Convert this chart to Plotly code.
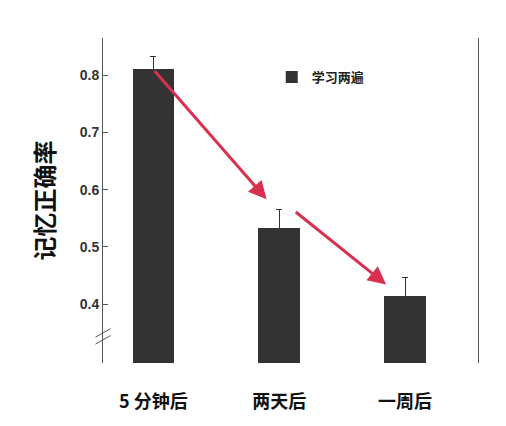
import plotly.graph_objects as go

categories = ["5 分钟后", "两天后", "一周后"]
values = [0.81, 0.533, 0.414]
err_upper = [0.023, 0.032, 0.033]
err_lower = [0.023, 0.032, 0.033]
y_ticks = [0.4, 0.5, 0.6, 0.7, 0.8]
series_name = "学习两遍"

fig = go.Figure()
fig.add_bar(x=[0, 1, 2], y=values, name=f"<b>{series_name}</b>", width=0.33,
            marker=dict(color="#333333", line=dict(width=0)),
            error_y=dict(type="data", array=err_upper, arrayminus=err_lower,
                         color="#333333", thickness=1, width=3))

red = "#d9304f"
arrows = [(0, values[0], 0.9, values[1] + 0.05), (1.12, values[1] + 0.03, 1.85, values[2] + 0.02)]
for x0, y0, x1, y1 in arrows:
    fig.add_annotation(x=x1, y=y1, ax=x0, ay=y0, xref="x", yref="y", axref="x", ayref="y",
                       text="", showarrow=True, arrowhead=2, arrowsize=1.2,
                       arrowwidth=3, arrowcolor=red)

fig.update_layout(
    width=506, height=426, plot_bgcolor="white", paper_bgcolor="white",
    margin=dict(l=95, r=36, t=30, b=71), bargap=0,
    showlegend=True,
    legend=dict(x=0.45, y=0.88, xanchor="left", yanchor="middle",
                font=dict(size=13, color="#222", family="Noto Sans CJK SC"),
                bgcolor="rgba(0,0,0,0)"),
    xaxis=dict(range=[-0.4, 2.58], tickvals=[0, 1, 2], ticktext=[f"<b>{c}</b>" for c in categories],
               showline=False, ticks="outside", ticklen=22, tickcolor="rgba(0,0,0,0)",
               showgrid=False, zeroline=False, mirror=False, automargin=False,
               tickfont=dict(size=18, color="#111", family="Noto Sans CJK SC")),
    yaxis=dict(range=[0.297, 0.865], tickvals=y_ticks, ticktext=[f"<b>{t:.1f}</b>" for t in y_ticks],
               showline=True, linecolor="#555", linewidth=1, ticks="inside", ticklen=5,
               tickcolor="#555", showgrid=False, zeroline=False, mirror=True, automargin=False,
               tickfont=dict(size=14, color="#333", family="Liberation Sans"),
               title=dict(text="<b>记忆正确率</b>", standoff=18,
                          font=dict(size=24, color="#111", family="Noto Sans CJK SC"))),
)
for dy in (0.0, 0.012):
    fig.add_shape(type="line", xref="paper", yref="y", x0=-0.02, x1=0.02,
                  y0=0.33 + dy, y1=0.345 + dy, line=dict(color="#555", width=1))
fig.write_html("out.html")
